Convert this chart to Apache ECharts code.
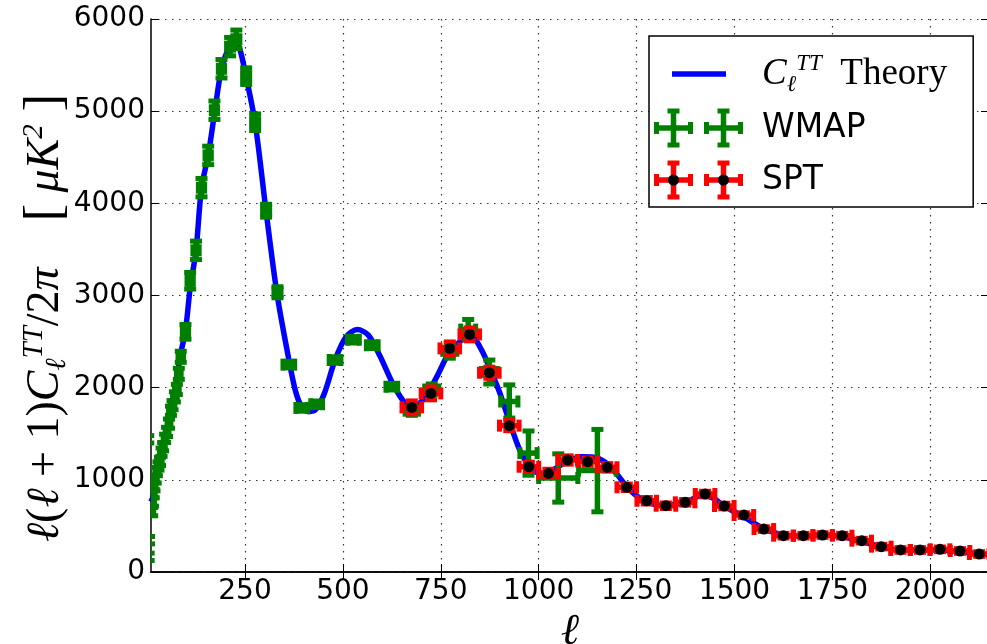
<!DOCTYPE html>
<html>
<head>
<meta charset="UTF-8">
<title>CMB TT power spectrum</title>
<script src="https://cdn.jsdelivr.net/npm/echarts@6/dist/echarts.min.js"></script>
<style>html,body{margin:0;padding:0;background:#fff}</style>
</head>
<body>
<div id="box" style="width:987px;height:644px"></div>
<script>
// axis ticks
var xTicks = [250, 500, 750, 1000, 1250, 1500, 1750, 2000];
var yTicks = [0, 1000, 2000, 3000, 4000, 5000, 6000];

// theory curve
var theoryL = [10, 16, 29, 46, 58, 74, 84, 98, 110, 125, 139, 156, 173, 190, 210, 224, 237, 253, 276, 304,
  331, 356, 378, 395, 412, 430, 452, 480, 508, 537, 565, 595, 629, 659, 676, 705, 740, 770, 799, 825,
  854, 880, 901, 927, 952, 978, 1003, 1037, 1072, 1110, 1140, 1170, 1200, 1225, 1259, 1293, 1327, 1378, 1418, 1446,
  1476, 1523, 1574, 1625, 1676, 1727, 1778, 1825, 1876, 1923, 1974, 2025, 2076, 2127, 2150];
var theoryV = [760, 830, 1140, 1430, 1690, 2010, 2330, 2620, 3080, 3490, 4170, 4520, 5000, 5460, 5700, 5770, 5670, 5370, 4870, 3910,
  3040, 2440, 1980, 1790, 1740, 1760, 1930, 2300, 2550, 2630, 2570, 2340, 2030, 1830, 1790, 1870, 2120, 2370, 2500, 2575,
  2410, 2160, 1940, 1610, 1320, 1140, 1070, 1110, 1200, 1250, 1245, 1190, 1060, 925, 800, 737, 727, 762, 835, 800,
  708, 600, 474, 401, 390, 401, 383, 329, 274, 239, 239, 239, 220, 195, 185];

// WMAP band powers: centre, value, half bin width, error
var wmapL  = [3, 5, 4, 13, 15, 17, 19, 22, 25, 29, 33, 37, 41, 46, 51, 56, 61, 65, 71, 76, 81, 86, 98,
  110, 125, 139, 156, 172, 190, 212, 228, 253, 276, 304, 333, 362, 395, 433, 480, 527, 575, 625,
  676, 727, 773, 820, 874, 925, 974, 1050, 1150];
var wmapV  = [1440, 345, 165, 655, 760, 850, 925, 1010, 1090, 1150, 1200, 1300, 1360, 1450, 1520, 1610, 1750, 1810, 1900, 1980, 2150, 2335, 2606,
  3160, 3490, 4170, 4520, 5010, 5460, 5700, 5780, 5380, 4880, 3920, 3035, 2250, 1780, 1820, 2300, 2520, 2460, 2010,
  1750, 1980, 2400, 2630, 2170, 1850, 1290, 1020, 1100];
var wmapDL = [1, 1, 1, 4, 4, 4, 4, 4, 4, 5, 5, 5, 5, 5, 5, 5, 6, 6, 6, 6, 6, 7, 8,
  8, 8, 8, 8, 8, 8, 9, 9, 9, 9, 9, 9, 15, 15, 15, 15, 15, 15, 15,
  17, 18, 18, 19, 20, 22, 22, 50, 48];
var wmapDV = [40, 40, 40, 45, 45, 45, 45, 45, 45, 45, 45, 45, 45, 45, 50, 50, 50, 50, 55, 55, 60, 60, 80,
  90, 100, 100, 100, 100, 100, 100, 100, 90, 90, 70, 60, 35, 35, 35, 35, 35, 35, 35,
  50, 60, 80, 110, 130, 180, 240, 262, 447];

// SPT band powers
var sptL  = [676, 725, 773, 824, 874, 925, 975, 1025, 1074, 1125, 1175, 1225, 1276, 1325, 1374, 1425, 1474, 1524,
  1575, 1625, 1676, 1725, 1775, 1825, 1875, 1924, 1974, 2025, 2076, 2125];
var sptV  = [1786, 1938, 2426, 2578, 2162, 1588, 1142, 1070, 1215, 1197, 1136, 919, 773, 719, 756, 846, 716, 618,
  466, 394, 394, 401, 394, 340, 275, 239, 239, 246, 228, 195];
var sptDL = [25, 25, 25, 25, 25, 25, 25, 25, 25, 25, 25, 25, 25, 25, 25, 25, 25, 25,
  25, 25, 25, 25, 25, 25, 25, 25, 25, 25, 25, 25];
var sptDV = [70, 70, 70, 70, 60, 55, 50, 45, 45, 40, 40, 35, 35, 30, 30, 30, 30, 25,
  25, 25, 25, 25, 25, 25, 25, 25, 25, 25, 25, 25];

function zip() {
  var cols = Array.prototype.slice.call(arguments);
  return cols[0].map(function (_, i) { return cols.map(function (c) { return c[i]; }); });
}

// matplotlib-like errorbar: x bar, y bar, caps, optional dot
function errorBars(color, dot) {
  return function (params, api) {
    var x = api.value(0), y = api.value(1), dx = api.value(2), dy = api.value(3);
    var c = api.coord([x, y]);
    var l = api.coord([x - dx, y])[0], r = api.coord([x + dx, y])[0];
    var t = api.coord([x, y + dy])[1], b = api.coord([x, y - dy])[1];
    var cap = 6;
    var bar = {stroke: color, lineWidth: 5.5, fill: null};
    var capSt = {stroke: color, lineWidth: 5, fill: null};
    var kids = [
      {type: 'line', shape: {x1: l, y1: c[1], x2: r, y2: c[1]}, style: bar},
      {type: 'line', shape: {x1: c[0], y1: t, x2: c[0], y2: b}, style: bar},
      {type: 'line', shape: {x1: l, y1: c[1] - cap, x2: l, y2: c[1] + cap}, style: capSt},
      {type: 'line', shape: {x1: r, y1: c[1] - cap, x2: r, y2: c[1] + cap}, style: capSt},
      {type: 'line', shape: {x1: c[0] - cap, y1: t, x2: c[0] + cap, y2: t}, style: capSt},
      {type: 'line', shape: {x1: c[0] - cap, y1: b, x2: c[0] + cap, y2: b}, style: capSt}
    ];
    if (dot) kids.push({type: 'circle', shape: {cx: c[0], cy: c[1], r: 5.5}, style: {fill: '#000'}});
    return {type: 'group', children: kids};
  };
}

function svgIcon(body) {
  var s = '<svg xmlns="http://www.w3.org/2000/svg" width="103" height="40" viewBox="0 0 103 40">' + body + '</svg>';
  return 'image://data:image/svg+xml;charset=utf-8,' + encodeURIComponent(s);
}
function crossIcon(color, dot) {
  var body = '';
  [19.5, 69.5].forEach(function (cx) {
    body += '<g stroke="' + color + '" fill="none">' +
      '<line stroke-width="5.5" x1="' + (cx - 17) + '" y1="20" x2="' + (cx + 17) + '" y2="20"/>' +
      '<line stroke-width="5.5" x1="' + cx + '" y1="3" x2="' + cx + '" y2="37"/>' +
      '<line stroke-width="5" x1="' + (cx - 17) + '" y1="14" x2="' + (cx - 17) + '" y2="26"/>' +
      '<line stroke-width="5" x1="' + (cx + 17) + '" y1="14" x2="' + (cx + 17) + '" y2="26"/>' +
      '<line stroke-width="5" x1="' + (cx - 6) + '" y1="3" x2="' + (cx + 6) + '" y2="3"/>' +
      '<line stroke-width="5" x1="' + (cx - 6) + '" y1="37" x2="' + (cx + 6) + '" y2="37"/></g>';
    if (dot) body += '<circle cx="' + cx + '" cy="20" r="5.5" fill="#000"/>';
  });
  return svgIcon(body);
}
var lineIcon = svgIcon('<line x1="18" y1="20" x2="72" y2="20" stroke="#0000ff" stroke-width="5.5"/>');

var serif = '"Liberation Serif", "DejaVu Serif", serif';
var mathRich = {
  i: {fontFamily: serif, fontStyle: 'italic', fontSize: 46, lineHeight: 52},
  u: {fontFamily: serif, fontSize: 46, lineHeight: 52},
  br: {fontFamily: serif, fontSize: 52, lineHeight: 52},
  sb: {fontFamily: serif, fontStyle: 'italic', fontSize: 29, verticalAlign: 'bottom'},
  sp: {fontFamily: serif, fontStyle: 'italic', fontSize: 29, verticalAlign: 'top'}
};
function plain(v) { return String(v); }

var myChart = echarts.init(document.getElementById('box'));
myChart.setOption({
  animation: false,
  backgroundColor: '#fff',
  grid: {left: 151, top: 19, right: -2, bottom: 72, outerBoundsMode: 'none'},
  xAxis: [{
    type: 'value', min: 10, max: 2150,
    name: 'ℓ', nameLocation: 'middle', nameGap: 20,
    nameTextStyle: {fontFamily: serif, fontStyle: 'italic', fontSize: 44, color: '#000'},
    axisLine: {lineStyle: {color: '#000', width: 1.5}},
    axisTick: {inside: true, length: 8, customValues: xTicks, lineStyle: {color: '#000', width: 1}},
    axisLabel: {customValues: xTicks, formatter: plain, margin: 6, color: '#000', fontFamily: 'DejaVu Sans', fontSize: 28},
    splitLine: {show: true, lineStyle: {color: '#333', width: 1.2, type: [1.5, 5.5]}}
  }, {
    type: 'value', min: 10, max: 2150, position: 'top',
    axisLine: {lineStyle: {color: '#000', width: 1.5}},
    axisTick: {inside: true, length: 8, customValues: xTicks, lineStyle: {color: '#000', width: 1}},
    axisLabel: {show: false}, splitLine: {show: false}
  }],
  yAxis: [{
    type: 'value', min: yTicks[0], max: yTicks[yTicks.length - 1], interval: 1000,
    axisLine: {lineStyle: {color: '#000', width: 1.5}},
    axisTick: {inside: true, length: 8, lineStyle: {color: '#000', width: 1}},
    axisLabel: {formatter: plain, margin: 6, color: '#000', fontFamily: 'DejaVu Sans', fontSize: 28},
    splitLine: {show: true, lineStyle: {color: '#333', width: 1.2, type: [1.5, 5.5]}}
  }, {
    type: 'value', min: 0, max: 6000, interval: 1000, position: 'right',
    axisLine: {show: true, lineStyle: {color: '#000', width: 1.5}},
    axisTick: {show: true, inside: true, length: 8, lineStyle: {color: '#000', width: 1}},
    axisLabel: {show: false}, splitLine: {show: false}
  }],
  legend: {
    orient: 'vertical', left: 649, top: 36,
    padding: [16, 26, 7, 5],
    itemWidth: 103, itemHeight: 40, itemGap: 12,
    backgroundColor: '#fff', borderColor: '#000', borderWidth: 1.5,
    selectedMode: false,
    textStyle: {fontFamily: 'DejaVu Sans', fontSize: 33, color: '#000', rich: {
      i: {fontFamily: serif, fontStyle: 'italic', fontSize: 37, lineHeight: 44},
      r: {fontFamily: serif, fontSize: 37, lineHeight: 44},
      sb: {fontFamily: serif, fontStyle: 'italic', fontSize: 23, verticalAlign: 'bottom'},
      sp: {fontFamily: serif, fontStyle: 'italic', fontSize: 23, verticalAlign: 'top'}
    }},
    formatter: function (name) {
      return name === 'Theory' ? '{i|C}{sb|ℓ}{sp|TT}{r|  Theory}' : name;
    },
    data: [
      {name: 'Theory', icon: lineIcon},
      {name: 'WMAP', icon: crossIcon('#008000', false)},
      {name: 'SPT', icon: crossIcon('#ff0000', true)}
    ]
  },
  graphic: [{
    type: 'text', x: 46, y: 318, rotation: Math.PI / 2,
    style: {
      text: '{i|ℓ}{u|(}{i|ℓ}{u| + 1)}{i|C}{sb|ℓ}{sp|TT}{u|/2}{i|π}{u|    }{br|[}{i| μK}{sp|2}{br| ]}',
      rich: mathRich, align: 'center', verticalAlign: 'middle', fill: '#000',
      fontFamily: serif, fontSize: 46
    }
  }],
  series: [{
    name: 'Theory', type: 'line', z: 2,
    data: zip(theoryL, theoryV),
    smooth: 0.3, showSymbol: false, symbol: 'none',
    lineStyle: {color: '#0000ff', width: 5.5},
    itemStyle: {color: '#0000ff'}
  }, {
    name: 'WMAP', type: 'custom', z: 3, clip: true,
    renderItem: errorBars('#008000', false),
    encode: {x: 0, y: 1},
    itemStyle: {color: '#008000'},
    data: zip(wmapL, wmapV, wmapDL, wmapDV)
  }, {
    name: 'SPT', type: 'custom', z: 4, clip: true,
    renderItem: errorBars('#ff0000', true),
    encode: {x: 0, y: 1},
    itemStyle: {color: '#ff0000'},
    data: zip(sptL, sptV, sptDL, sptDV)
  }]
});
</script>
</body>
</html>
